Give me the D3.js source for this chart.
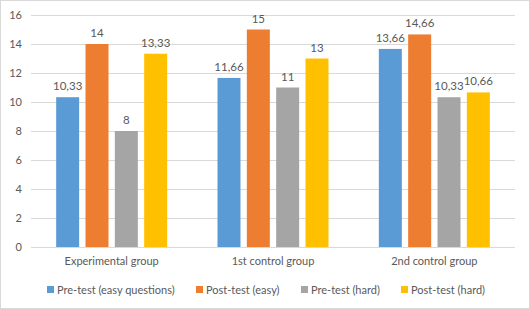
<!DOCTYPE html>
<html>
<head>
<meta charset="utf-8">
<script src="https://cdn.jsdelivr.net/npm/d3@7"></script>
<style>
  body { margin: 0; background: #fff; }
  text { font-family: Lato, "Open Sans", sans-serif; fill: #595959; }
</style>
</head>
<body>
<div id="chart"></div>
<script>
var groups = ["Experimental group", "1st control group", "2nd control group"];
var seriesNames = ["Pre-test (easy questions)", "Post-test (easy)", "Pre-test (hard)", "Post-test (hard)"];
var preEasy = [10.33, 11.66, 13.66];
var postEasy = [14, 15, 14.66];
var preHard = [8, 11, 10.33];
var postHard = [13.33, 13, 10.66];
var yTicks = [0, 2, 4, 6, 8, 10, 12, 14, 16];
var colors = ["#5B9BD5", "#ED7D31", "#A5A5A5", "#FFC000"];

var series = [preEasy, postEasy, preHard, postHard];

var w = 530, h = 309;
var margin = { top: 15, right: 15, bottom: 62, left: 31 };
var clusterW = 111;

var svg = d3.select("#chart").append("svg")
    .attr("width", w)
    .attr("height", h);

svg.append("rect")
   .attr("x", 0.5).attr("y", 0.5)
   .attr("width", w - 1).attr("height", h - 1)
   .attr("fill", "#fff")
   .attr("stroke", "#d9d9d9");

var x0 = d3.scaleBand()
    .domain(groups)
    .range([margin.left, w - margin.right]);

var x1 = d3.scaleBand()
    .domain(d3.range(series.length))
    .range([0, clusterW])
    .paddingInner(0.216);

var y = d3.scaleLinear()
    .domain([0, 16])
    .range([h - margin.bottom, margin.top]);

// gridlines
svg.append("g")
   .selectAll("line")
   .data(yTicks)
   .enter()
   .append("line")
   .attr("x1", margin.left)
   .attr("x2", w - margin.right)
   .attr("y1", function(d) { return Math.round(y(d)) + 0.5; })
   .attr("y2", function(d) { return Math.round(y(d)) + 0.5; })
   .attr("stroke", "#d9d9d9");

var yAxis = d3.axisLeft(y).tickValues(yTicks).tickSize(0).tickPadding(9);
var gy = svg.append("g")
   .attr("transform", "translate(" + margin.left + ",0)")
   .call(yAxis);
gy.select(".domain").remove();
gy.selectAll("text").style("font-size", "11px").attr("fill", "#595959");

var xAxis = d3.axisBottom(x0).tickSize(0).tickPadding(10);
var gx = svg.append("g")
   .attr("transform", "translate(0," + (h - margin.bottom) + ")")
   .call(xAxis);
gx.select(".domain").remove();
gx.selectAll("text").style("font-size", "11px").attr("fill", "#595959");

var data = [];
groups.forEach(function(g, gi) {
  series.forEach(function(s, si) {
    data.push({ group: g, si: si, value: s[gi] });
  });
});

function gxStart(g) { return x0(g) + (x0.bandwidth() - clusterW) / 2; }

svg.selectAll(".bar")
   .data(data)
   .enter()
   .append("rect")
   .attr("class", "bar")
   .attr("x", function(d) { return gxStart(d.group) + x1(d.si); })
   .attr("y", function(d) { return y(d.value); })
   .attr("width", x1.bandwidth())
   .attr("height", function(d) { return y(0) - y(d.value); })
   .attr("fill", function(d) { return colors[d.si]; });

svg.selectAll(".lbl")
   .data(data)
   .enter()
   .append("text")
   .attr("class", "lbl")
   .attr("text-anchor", "middle")
   .attr("x", function(d) { return gxStart(d.group) + x1(d.si) + x1.bandwidth() / 2; })
   .attr("y", function(d) { return y(d.value) - 7; })
   .style("font-size", "11.5px")
   .text(function(d) { return String(d.value).replace(".", ","); });

// legend
var legendX = [47, 196, 301, 401];
var legend = svg.selectAll(".leg")
   .data(seriesNames)
   .enter()
   .append("g")
   .attr("class", "leg")
   .attr("transform", function(d, i) { return "translate(" + legendX[i] + ",286)"; });
legend.append("rect")
   .attr("width", 7).attr("height", 7)
   .attr("fill", function(d, i) { return colors[i]; });
legend.append("text")
   .attr("x", 10)
   .attr("y", 7.5)
   .style("font-size", "11px")
   .text(function(d) { return d; });
</script>
</body>
</html>
